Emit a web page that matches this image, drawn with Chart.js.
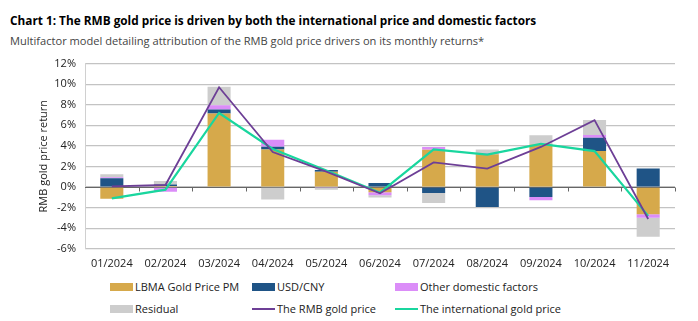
<!DOCTYPE html>
<html>
<head>
<meta charset="utf-8">
<script src="https://cdn.jsdelivr.net/npm/chart.js@4"></script>
<style>
  body { margin: 0; background: #fff; font-family: "Open Sans", sans-serif; width: 698px; height: 321px; overflow: hidden; position: relative; }
  #title { position: absolute; left: 10px; top: 12px; font-size: 11.8px; font-weight: bold; color: #000; }
  #subtitle { position: absolute; left: 10px; top: 33px; font-size: 11.1px; color: #444; }
  #wrap { position: absolute; left: 0; top: 48px; width: 698px; height: 222px; }
  .leg { position: absolute; font-size: 11px; color: #222; display: flex; align-items: center; }
  .leg .sw { width: 23px; height: 8px; margin-right: 2px; }
  .leg .ln { width: 23px; height: 2px; margin-right: 2px; }
</style>
</head>
<body>
<div id="title">Chart 1: The RMB gold price is driven by both the international price and domestic factors</div>
<div id="subtitle">Multifactor model detailing attribution of the RMB gold price drivers on its monthly returns*</div>
<div id="wrap"><canvas id="chart"></canvas></div>
<div id="legend"></div>
<script>
// months on the x axis
const months = ['01/2024','02/2024','03/2024','04/2024','05/2024','06/2024','07/2024','08/2024','09/2024','10/2024','11/2024'];

// stacked contributions, % points
const lbma     = [-1.13, 0.10, 7.15, 3.66, 1.50, -0.50, 3.63, 3.20, 4.14, 3.50, -2.65];
const usdCny   = [0.85, 0.15, 0.40, 0.25, 0.15, 0.40, -0.58, -1.94, -0.97, 1.30, 1.81];
const otherDom = [0.10, -0.45, 0.39, 0.70, -0.05, -0.30, 0.27, 0.10, -0.32, 0.26, -0.33];
const residual = [0.30, 0.35, 1.80, -1.20, -0.20, -0.22, -0.97, 0.35, 0.90, 1.46, -1.85];

// lines
const rmbGold  = [0.06, 0.20, 9.70, 3.40, 1.50, -0.60, 2.40, 1.80, 3.90, 6.50, -3.10];
const intlGold = [-1.10, -0.25, 7.20, 3.70, 1.60, -0.55, 3.65, 3.15, 4.20, 3.50, -2.80];

const yTicks = [-6, -4, -2, 0, 2, 4, 6, 8, 10, 12];

const colors = {
  lbma: '#D6A94B',
  usd: '#1F5486',
  other: '#DB8DF8',
  resid: '#CDCDCD',
  rmb: '#6D3F96',
  intl: '#19D69E'
};

function barSet(label, data, color) {
  return { type: 'bar', label: label, data: data, backgroundColor: color, stack: 's', order: 2,
           barPercentage: 0.43, categoryPercentage: 1 };
}
function lineSet(label, data, color, w, stack) {
  return { type: 'line', label: label, data: data, borderColor: color, backgroundColor: color,
           borderWidth: w, pointRadius: 0, tension: 0, order: 1, stack: stack };
}

// ticks on the zero line between months
const zeroTicks = {
  id: 'zeroTicks',
  beforeDatasetsDraw(chart) {
    const x = chart.scales.x, y = chart.scales.y, ctx = chart.ctx;
    const y0 = Math.round(y.getPixelForValue(0)) + 0.5;
    ctx.save();
    ctx.strokeStyle = '#666';
    ctx.lineWidth = 1;
    ctx.beginPath();
    ctx.moveTo(x.left, y0); ctx.lineTo(x.right, y0);
    for (let i = 1; i <= months.length; i++) {
      const px = Math.round(x.left + (x.right - x.left) * i / months.length) + 0.5;
      ctx.moveTo(px, y0); ctx.lineTo(px, y0 + 4);
    }
    ctx.stroke();
    ctx.restore();
  }
};

new Chart(document.getElementById('chart'), {
  data: {
    labels: months,
    datasets: [
      barSet('LBMA Gold Price PM', lbma, colors.lbma),
      barSet('USD/CNY', usdCny, colors.usd),
      barSet('Other domestic factors', otherDom, colors.other),
      barSet('Residual', residual, colors.resid),
      lineSet('The RMB gold price', rmbGold, colors.rmb, 1.8, 'rmb'),
      lineSet('The international gold price', intlGold, colors.intl, 2.2, 'intl')
    ]
  },
  options: {
    responsive: true,
    maintainAspectRatio: false,
    animation: false,
    layout: { padding: { left: 37, right: 23, top: 0, bottom: 0 } },
    plugins: { legend: { display: false }, tooltip: { enabled: false } },
    scales: {
      x: {
        stacked: true,
        grid: { display: false },
        border: { display: false },
        ticks: { color: '#222', font: { family: 'Open Sans', size: 11 }, maxRotation: 0, padding: 0 }
      },
      y: {
        stacked: true,
        min: -6, max: 12,
        afterBuildTicks: s => { s.ticks = yTicks.map(v => ({ value: v })); },
        afterFit: s => { s.width = 48; },
        grid: { color: '#C3C3C3', lineWidth: 1.3, drawTicks: false },
        border: { display: true, color: '#D0D0D0' },
        ticks: { color: '#222', font: { family: 'Open Sans', size: 11 }, padding: 9,
                 callback: v => v + '%' },
        title: { display: true, text: 'RMB gold price return', color: '#222',
                 font: { family: 'Open Sans', size: 11 }, padding: 0 }
      }
    }
  },
  plugins: [zeroTicks]
});

// legend, 3 columns x 2 rows
const legendItems = [
  ['LBMA Gold Price PM', colors.lbma, 'sw', 110, 287],
  ['USD/CNY', colors.usd, 'sw', 252, 287],
  ['Other domestic factors', colors.other, 'sw', 395, 287],
  ['Residual', colors.resid, 'sw', 110, 309],
  ['The RMB gold price', colors.rmb, 'ln', 252, 309],
  ['The international gold price', colors.intl, 'ln', 395, 309]
];
const leg = document.getElementById('legend');
legendItems.forEach(it => {
  const d = document.createElement('div');
  d.className = 'leg';
  d.style.left = it[3] + 'px';
  d.style.top = (it[4] - 8) + 'px';
  d.innerHTML = '<span class="' + it[2] + '" style="background:' + it[1] + '"></span>' + it[0];
  leg.appendChild(d);
});
</script>
</body>
</html>
